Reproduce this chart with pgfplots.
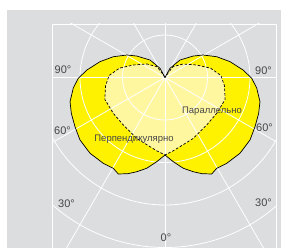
\documentclass[border=0pt]{standalone}
\usepackage{fontspec}
\setmainfont{Liberation Sans}
\usepackage{pgfplots}
\pgfplotsset{compat=1.18}
\definecolor{bg}{RGB}{220,221,223}
\definecolor{yel}{RGB}{255,242,0}
\definecolor{pale}{RGB}{255,247,160}
\definecolor{lab}{RGB}{70,70,70}
\pgfplotstableread{
phi r
-270 0
-241.5 10.5
-229.4 23
-217.2 35.5
-210.6 44.2
-201.9 55.7
-193.7 66.9
-185.5 78.4
-179.5 86.7
-173.5 92.3
-165.7 98
-159 100.3
-151.3 102.6
-143.7 105.5
-134.7 106.6
-125.7 105.7
-119.7 104.5
-115.8 107.2
-111 103
-106.7 98.4
-101.4 92.6
-95.6 84.6
-90 77.5
-84.4 84.6
-78.6 92.6
-73.3 98.4
-69 103
-64.2 107.2
-60.3 104.5
-54.3 105.7
-45.3 106.6
-36.3 105.5
-28.7 102.6
-21 100.3
-14.3 98
-6.5 92.3
-0.5 86.7
5.5 78.4
13.7 66.9
21.9 55.7
30.6 44.2
37.2 35.5
49.4 23
61.5 10.5
90 0
}\outer
\pgfplotstableread{
phi r
-270 0
-236 5.4
-233.5 13.4
-216.9 22.5
-201.5 34.1
-191.6 46.5
-182 56
-172 60
-160 64
-145.3 62.9
-131.3 63.2
-115 67.1
-102.2 70.8
-96 74
-90 77.5
-84 74
-77.8 70.8
-65 67.1
-48.7 63.2
-34.7 62.9
-20 64
-8 60
2 56
11.6 46.5
21.5 34.1
36.9 22.5
53.5 13.4
56 5.4
90 0
}\inner
\begin{document}
\begin{tikzpicture}
\begin{axis}[width=281pt,height=247pt,scale only axis,
  xmin=-165,xmax=116,ymin=-169.5,ymax=77.5,
  hide axis, clip=true]
\coordinate (bl) at (axis cs:-165,-169.5);
\coordinate (tr) at (axis cs:116,77.5);
\fill[bg] (axis cs:-158,-170) rectangle (axis cs:117,67.5);
\addplot[fill=yel, draw=none, data cs=polar] table[x=phi,y=r] {\outer};
\addplot[fill=pale, draw=none, data cs=polar] table[x=phi,y=r] {\inner};
\begin{scope}
\clip (axis cs:-113,-171) rectangle (axis cs:111,53.5);
\pgfplotsinvokeforeach{0,30,...,330}{
  \draw[white, line width=0.8pt] (axis cs:0,0) -- ++(#1:320pt);
}
\pgfplotsinvokeforeach{42.5,85,127.5,170,212.5}{
  \draw[white, line width=0.8pt] (axis cs:0,0) circle[radius=#1];
}
\end{scope}
\draw[white, line width=0.9pt] (axis cs:-113,-171) -- (axis cs:-113,53.5) -- (axis cs:111,53.5) -- (axis cs:111,-171);
\addplot[black, line width=0.7pt, data cs=polar] table[x=phi,y=r] {\outer};
\addplot[black, line width=0.7pt, dash pattern=on 2.6pt off 1.8pt, data cs=polar] table[x=phi,y=r] {\inner};
\begin{scope}[every node/.style={text=lab, font=\fontsize{11}{13}\selectfont, inner sep=0pt}]
\node at (axis cs:-102,7.5) {90°};
\node at (axis cs:98.5,7) {90°};
\node at (axis cs:-102.5,-53) {60°};
\node at (axis cs:99.5,-50.5) {60°};
\node at (axis cs:-98.5,-126.5) {30°};
\node at (axis cs:98.5,-125.5) {30°};
\node at (axis cs:1,-160) {0°};
\end{scope}
\begin{scope}[every node/.style={text=lab, font=\fontsize{9.5}{11}\selectfont, inner sep=0pt}]
\node at (axis cs:-31,-62) {Перпендикулярно};
\node at (axis cs:47,-33.5) {Параллельно};
\end{scope}
\end{axis}
\pgfresetboundingbox
\useasboundingbox (bl) rectangle (tr);
\end{tikzpicture}
\end{document}
